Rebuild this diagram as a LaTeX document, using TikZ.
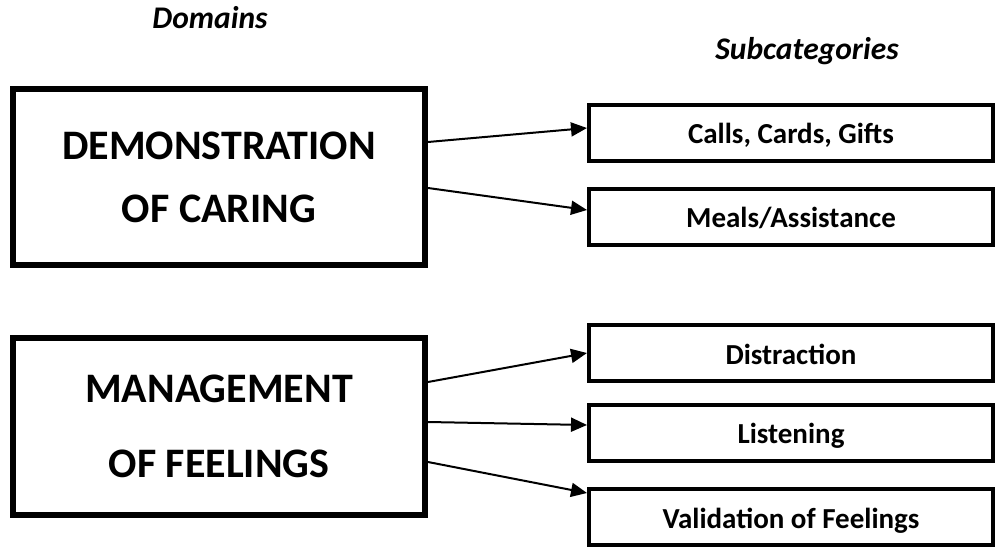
\documentclass[tikz,border=0pt]{standalone}
\usepackage{fontspec}
\setmainfont{Carlito}
\usetikzlibrary{arrows.meta,positioning}
\tikzset{
  domainbox/.style={draw, line width=6pt, minimum width=412pt, minimum height=176pt,
    inner sep=0pt, align=center},
  subcat/.style={draw, line width=4pt, minimum width=404pt, minimum height=56pt,
    inner sep=0pt, font=\bfseries\fontsize{29}{35}\selectfont,
    text height=22pt, text depth=0pt},
  heading/.style={font=\bfseries\itshape\fontsize{31.5}{37}\selectfont, anchor=base},
  link/.style={line width=2pt, -{Triangle[length=16pt,width=14pt]}}
}
\begin{document}
\begin{tikzpicture}[x=1pt,y=-1pt]
  \useasboundingbox (0,0) rectangle (997,548);
  % column headings
  \node[heading] (domhead) at (210,29) {Domains};
  \node[heading] (subhead) at (807,60) {Subcategories};
  % domains
  \node[domainbox, font=\bfseries\fontsize{42}{63}\selectfont] (caring) at (219,177)
    {DEMONSTRATION\\OF CARING};
  \node[domainbox, font=\bfseries\fontsize{42}{75}\selectfont] (feelings) at (219,426.5)
    {MANAGEMENT\\OF FEELINGS};
  % subcategories
  \node[subcat] (calls) at (791,133) {Calls, Cards, Gifts};
  \node[subcat] (meals) at (791,217) {Meals/Assistance};
  \node[subcat] (distract) at (791,353) {Distraction};
  \node[subcat] (listen) at (791,432.5) {Listening};
  \node[subcat] (validate) at (791,517) {Validation of Feelings};
  % links
  \draw[link] ([yshift=35pt]caring.east) -- ([yshift=5pt]calls.west);
  \draw[link] ([yshift=-11pt]caring.east) -- ([yshift=7pt]meals.west);
  \draw[link] ([yshift=44.5pt]feelings.east) -- (distract.west);
  \draw[link] ([yshift=4.5pt]feelings.east) -- ([yshift=7.5pt]listen.west);
  \draw[link] ([yshift=-35.5pt]feelings.east) -- ([yshift=24pt]validate.west);
\end{tikzpicture}
\end{document}
